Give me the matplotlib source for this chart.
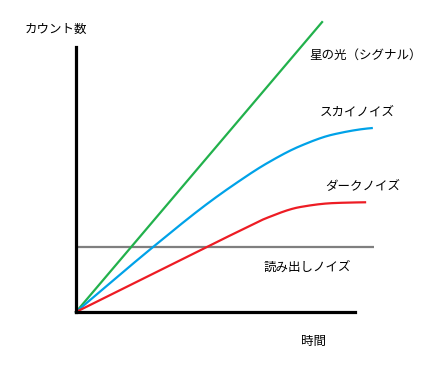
import numpy as np
import matplotlib
matplotlib.use("Agg")
import matplotlib.pyplot as plt

plt.rcParams['font.family'] = ['Noto Sans CJK JP', 'DejaVu Sans']

# data (time units 0..100, count units 0..100)
signal_x = [0, 88.2]
signal_y = [0, 109.4]
sky_x = [0, 27.7, 46.6, 56.4, 68.4, 80.3, 92.2, 106.0]
sky_y = [0, 24.6, 40.5, 47.9, 56.1, 62.6, 67.0, 69.4]
dark_x = [0, 23.3, 46.6, 59.4, 68.4, 80.3, 92.2, 103.6]
dark_y = [0, 12.2, 24.4, 31.0, 35.5, 39.6, 41.1, 41.4]
read_x = [0, 106.8]
read_level = 24.6

labels = ['星の光（シグナル）', 'スカイノイズ', 'ダークノイズ', '読み出しノイズ']
xlabel = '時間'
ylabel = 'カウント数'


def pchip(xs, ys, n=400):
    x = np.asarray(xs, float)
    y = np.asarray(ys, float)
    h = np.diff(x)
    d = np.diff(y) / h
    m = np.zeros_like(y)
    for k in range(1, len(x) - 1):
        if d[k - 1] * d[k] > 0:
            w1 = 2 * h[k] + h[k - 1]
            w2 = h[k] + 2 * h[k - 1]
            m[k] = (w1 + w2) / (w1 / d[k - 1] + w2 / d[k])
    m[0] = d[0]
    m[-1] = d[-1] * 0.5
    xx = np.linspace(x[0], x[-1], n)
    idx = np.clip(np.searchsorted(x, xx) - 1, 0, len(x) - 2)
    t = (xx - x[idx]) / h[idx]
    h00 = 2 * t ** 3 - 3 * t ** 2 + 1
    h10 = t ** 3 - 2 * t ** 2 + t
    h01 = -2 * t ** 3 + 3 * t ** 2
    h11 = t ** 3 - t ** 2
    yy = h00 * y[idx] + h10 * h[idx] * m[idx] + h01 * y[idx + 1] + h11 * h[idx] * m[idx + 1]
    return xx, yy


W, H = 424, 378
fig = plt.figure(figsize=(W / 100, H / 100), dpi=100)
ax = fig.add_axes([76 / W, (H - 312) / H, 279 / W, 265 / H])
ax.set_xlim(0, 100)
ax.set_ylim(0, 100)
for s in ['top', 'right']:
    ax.spines[s].set_visible(False)
for s in ['left', 'bottom']:
    ax.spines[s].set_linewidth(2.3)
    ax.spines[s].set_color('black')
ax.set_xticks([])
ax.set_yticks([])
ax.patch.set_alpha(0)

lw = 1.6
ax.plot(read_x, [read_level, read_level], color='#7f7f7f', lw=lw, clip_on=False, solid_capstyle='butt')
ax.plot(signal_x, signal_y, color='#22b14c', lw=lw, clip_on=False)
sx, sy = pchip(sky_x, sky_y)
ax.plot(sx, sy, color='#00a2e8', lw=lw, clip_on=False)
dx, dy = pchip(dark_x, dark_y)
ax.plot(dx, dy, color='#ed1c24', lw=lw, clip_on=False)


def ftext(x, y, s):
    fig.text(x / W, 1 - y / H, s, fontsize=9, ha='left', va='center', color='black')


ftext(25, 29, ylabel)
ftext(309, 55, labels[0])
ftext(320, 112, labels[1])
ftext(325, 187, labels[2])
ftext(264, 267, labels[3])
ftext(301, 341, xlabel)

fig.savefig('out.png', dpi=100)
